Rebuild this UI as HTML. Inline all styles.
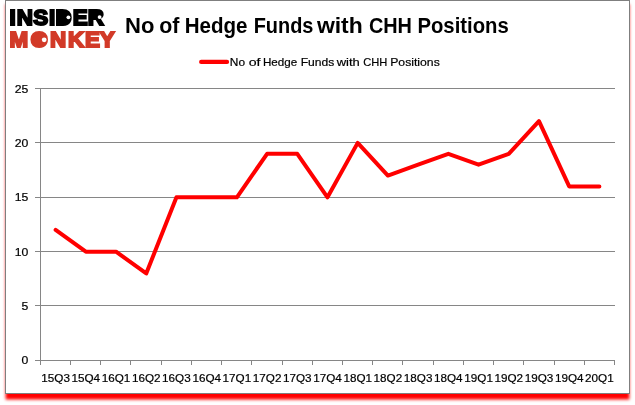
<!DOCTYPE html>
<html><head><meta charset="utf-8"><title>No of Hedge Funds with CHH Positions</title>
<style>
html,body{margin:0;padding:0;background:#fff;}
body{width:635px;height:405px;position:relative;overflow:hidden;font-family:"Liberation Sans",sans-serif;}
svg{position:absolute;left:0;top:0;}
svg text{font-family:"Liberation Sans",sans-serif;}
</style></head><body>
<svg width="635" height="405" viewBox="0 0 635 405">
<defs><filter id="sh" x="-5%" y="-5%" width="110%" height="110%"><feGaussianBlur stdDeviation="1.8"/></filter></defs>
<rect x="5.6" y="4.3" width="623.8" height="395.2" fill="#ff0000" filter="url(#sh)"/>
<rect x="5.5" y="0.5" width="624" height="393" fill="#fff" stroke="#7f7f7f" stroke-width="1"/>
<g font-weight="bold" font-size="22.4" stroke-width="2" stroke-linejoin="miter">
<text y="25.1" x="9.5 16.8 33.35 48.9 55.6 72.8 87.8" fill="#000" stroke="#000">INSIDER</text>
<text y="47" x="9.4 30.6 50.1 68 84.9 99.8" fill="#d23a28" stroke="#d23a28">MONKEY</text>
</g>
<rect x="60" y="12" width="8" height="11.5" rx="2" fill="#000"/>
<rect x="92" y="11.5" width="8" height="7" rx="2" fill="#000"/>
<circle cx="39.4" cy="39.3" r="6" fill="#d23a28"/>
<circle cx="68.4" cy="17.3" r="1.9" fill="#fff"/>
<circle cx="99.6" cy="17.1" r="1.9" fill="#fff"/>
<circle cx="44.2" cy="39.8" r="2.4" fill="#fff"/>
<text y="32.8" font-size="21.6" font-weight="bold" fill="#000"><tspan x="125.0" textLength="29.4" lengthAdjust="spacingAndGlyphs">No</tspan> <tspan x="159.3" textLength="20.2" lengthAdjust="spacingAndGlyphs">of</tspan> <tspan x="184.65" textLength="62.8" lengthAdjust="spacingAndGlyphs">Hedge</tspan> <tspan x="253.65" textLength="59.8" lengthAdjust="spacingAndGlyphs">Funds</tspan> <tspan x="316.9" textLength="45.9" lengthAdjust="spacingAndGlyphs">with</tspan> <tspan x="368.9" textLength="43.1" lengthAdjust="spacingAndGlyphs">CHH</tspan> <tspan x="417.45" textLength="91.3" lengthAdjust="spacingAndGlyphs">Positions</tspan></text>
<line x1="201.2" y1="61.9" x2="227" y2="61.9" stroke="#ff0000" stroke-width="4.3" stroke-linecap="round"/>
<text y="65.9" font-size="11.4" fill="#000" stroke="#000" stroke-width="0.2"><tspan x="229.85" textLength="15.2" lengthAdjust="spacingAndGlyphs">No</tspan> <tspan x="248.7" textLength="11.8" lengthAdjust="spacingAndGlyphs">of</tspan> <tspan x="262.9" textLength="34.3" lengthAdjust="spacingAndGlyphs">Hedge</tspan> <tspan x="300.65" textLength="33.65" lengthAdjust="spacingAndGlyphs">Funds</tspan> <tspan x="336.7" textLength="23.1" lengthAdjust="spacingAndGlyphs">with</tspan> <tspan x="363.2" textLength="24.1" lengthAdjust="spacingAndGlyphs">CHH</tspan> <tspan x="390.2" textLength="49.6" lengthAdjust="spacingAndGlyphs">Positions</tspan></text>
<g stroke="#868686" stroke-width="1" shape-rendering="crispEdges">
<line x1="35" y1="88.5" x2="615" y2="88.5"/><line x1="35" y1="142.5" x2="615" y2="142.5"/><line x1="35" y1="197.5" x2="615" y2="197.5"/><line x1="35" y1="251.5" x2="615" y2="251.5"/><line x1="35" y1="305.5" x2="615" y2="305.5"/><line x1="35" y1="360.5" x2="615" y2="360.5"/>
<line x1="40.5" y1="88" x2="40.5" y2="361"/>
<line x1="40.5" y1="360" x2="40.5" y2="365"/><line x1="70.5" y1="360" x2="70.5" y2="365"/><line x1="100.5" y1="360" x2="100.5" y2="365"/><line x1="130.5" y1="360" x2="130.5" y2="365"/><line x1="161.5" y1="360" x2="161.5" y2="365"/><line x1="191.5" y1="360" x2="191.5" y2="365"/><line x1="221.5" y1="360" x2="221.5" y2="365"/><line x1="251.5" y1="360" x2="251.5" y2="365"/><line x1="282.5" y1="360" x2="282.5" y2="365"/><line x1="312.5" y1="360" x2="312.5" y2="365"/><line x1="342.5" y1="360" x2="342.5" y2="365"/><line x1="372.5" y1="360" x2="372.5" y2="365"/><line x1="402.5" y1="360" x2="402.5" y2="365"/><line x1="433.5" y1="360" x2="433.5" y2="365"/><line x1="463.5" y1="360" x2="463.5" y2="365"/><line x1="493.5" y1="360" x2="493.5" y2="365"/><line x1="523.5" y1="360" x2="523.5" y2="365"/><line x1="554.5" y1="360" x2="554.5" y2="365"/><line x1="584.5" y1="360" x2="584.5" y2="365"/><line x1="614.5" y1="360" x2="614.5" y2="365"/>
</g>
<g font-size="11.3" fill="#000" stroke="#000" stroke-width="0.2">
<text x="28.3" y="364" text-anchor="end" textLength="6.8" lengthAdjust="spacingAndGlyphs">0</text><text x="28.3" y="310" text-anchor="end" textLength="6.8" lengthAdjust="spacingAndGlyphs">5</text><text x="28.3" y="256" text-anchor="end" textLength="13.6" lengthAdjust="spacingAndGlyphs">10</text><text x="28.3" y="201" text-anchor="end" textLength="13.6" lengthAdjust="spacingAndGlyphs">15</text><text x="28.3" y="147" text-anchor="end" textLength="13.6" lengthAdjust="spacingAndGlyphs">20</text><text x="28.3" y="93" text-anchor="end" textLength="13.6" lengthAdjust="spacingAndGlyphs">25</text>
<text x="55.6" y="382" text-anchor="middle" textLength="28.6" lengthAdjust="spacingAndGlyphs">15Q3</text><text x="85.8" y="382" text-anchor="middle" textLength="28.6" lengthAdjust="spacingAndGlyphs">15Q4</text><text x="116.0" y="382" text-anchor="middle" textLength="28.6" lengthAdjust="spacingAndGlyphs">16Q1</text><text x="146.2" y="382" text-anchor="middle" textLength="28.6" lengthAdjust="spacingAndGlyphs">16Q2</text><text x="176.4" y="382" text-anchor="middle" textLength="28.6" lengthAdjust="spacingAndGlyphs">16Q3</text><text x="206.7" y="382" text-anchor="middle" textLength="28.6" lengthAdjust="spacingAndGlyphs">16Q4</text><text x="236.9" y="382" text-anchor="middle" textLength="28.6" lengthAdjust="spacingAndGlyphs">17Q1</text><text x="267.1" y="382" text-anchor="middle" textLength="28.6" lengthAdjust="spacingAndGlyphs">17Q2</text><text x="297.3" y="382" text-anchor="middle" textLength="28.6" lengthAdjust="spacingAndGlyphs">17Q3</text><text x="327.5" y="382" text-anchor="middle" textLength="28.6" lengthAdjust="spacingAndGlyphs">17Q4</text><text x="357.7" y="382" text-anchor="middle" textLength="28.6" lengthAdjust="spacingAndGlyphs">18Q1</text><text x="387.9" y="382" text-anchor="middle" textLength="28.6" lengthAdjust="spacingAndGlyphs">18Q2</text><text x="418.1" y="382" text-anchor="middle" textLength="28.6" lengthAdjust="spacingAndGlyphs">18Q3</text><text x="448.3" y="382" text-anchor="middle" textLength="28.6" lengthAdjust="spacingAndGlyphs">18Q4</text><text x="478.6" y="382" text-anchor="middle" textLength="28.6" lengthAdjust="spacingAndGlyphs">19Q1</text><text x="508.8" y="382" text-anchor="middle" textLength="28.6" lengthAdjust="spacingAndGlyphs">19Q2</text><text x="539.0" y="382" text-anchor="middle" textLength="28.6" lengthAdjust="spacingAndGlyphs">19Q3</text><text x="569.2" y="382" text-anchor="middle" textLength="28.6" lengthAdjust="spacingAndGlyphs">19Q4</text><text x="599.4" y="382" text-anchor="middle" textLength="28.6" lengthAdjust="spacingAndGlyphs">20Q1</text>
</g>
<polyline points="55.61,229.94 85.82,251.70 116.03,251.70 146.24,273.46 176.45,197.30 206.66,197.30 236.87,197.30 267.08,153.78 297.29,153.78 327.50,197.30 357.71,142.90 387.92,175.54 418.13,164.66 448.34,153.78 478.55,164.66 508.76,153.78 538.97,121.14 569.18,186.42 599.39,186.42" fill="none" stroke="#ff0000" stroke-width="4" stroke-linejoin="round" stroke-linecap="round"/>
</svg>
</body></html>
